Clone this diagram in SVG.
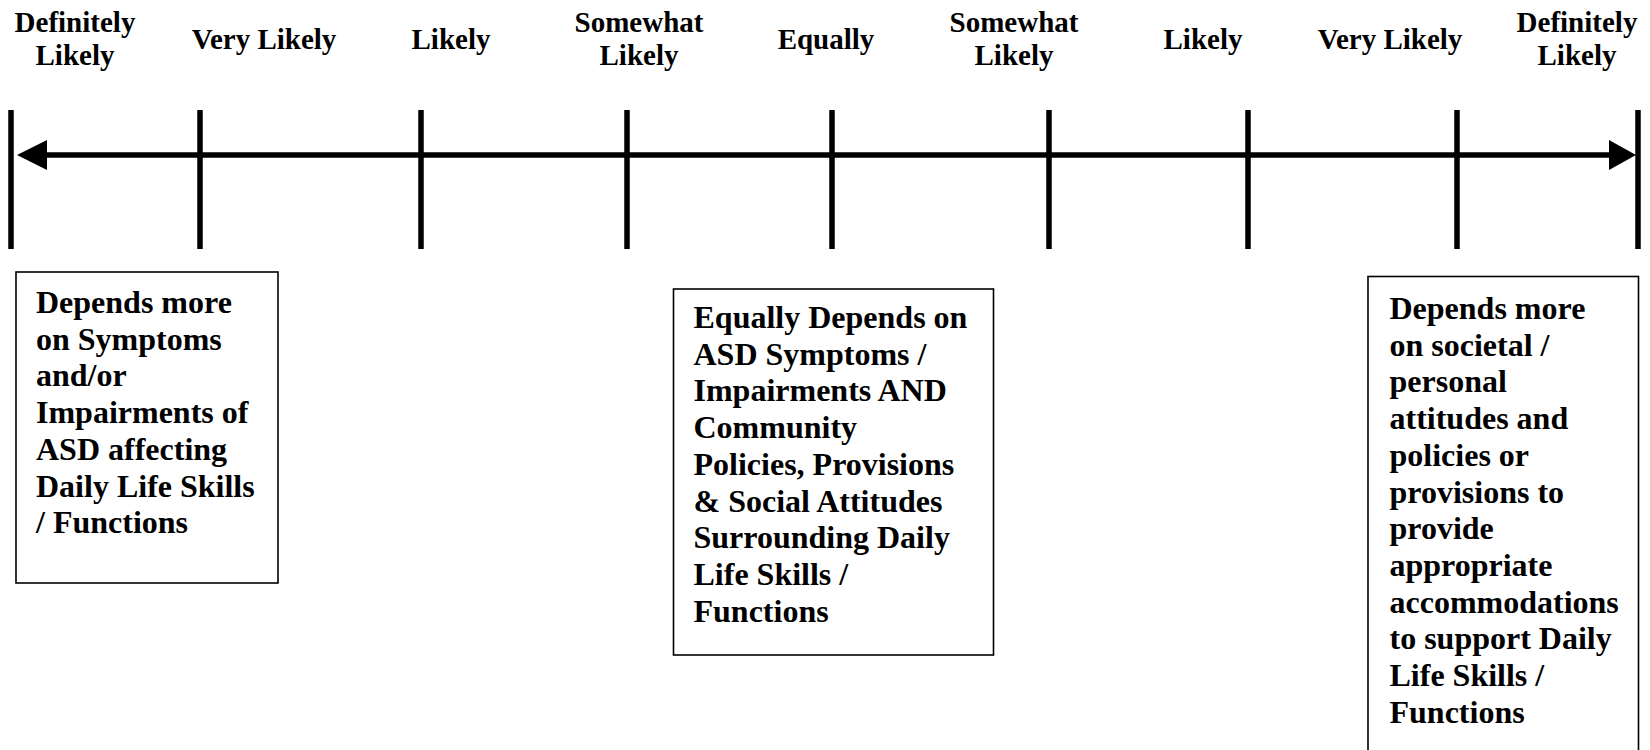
<svg xmlns="http://www.w3.org/2000/svg" width="1650" height="750" viewBox="0 0 1650 750">
  <style>
    .scale { font-family: "Liberation Serif", "Times New Roman", serif; font-weight: bold; font-size: 29px; fill: #000; text-anchor: middle; }
    .body { font-family: "Liberation Serif", "Times New Roman", serif; font-weight: bold; font-size: 32px; fill: #000; }
    .tick { stroke: #000; stroke-width: 5.5; }
    .axis { stroke: #000; stroke-width: 5.5; fill: none; }
    .head { fill: #000; }
    .box { fill: #fff; stroke: #000; stroke-width: 1.6; }
  </style>

  <rect width="1650" height="750" fill="#fff"/>

  <!-- scale labels -->
  <g id="labels">
    <text class="scale" x="75" y="32">Definitely</text>
    <text class="scale" x="75" y="65">Likely</text>
    <text class="scale" x="264" y="49">Very Likely</text>
    <text class="scale" x="451" y="49">Likely</text>
    <text class="scale" x="639" y="32">Somewhat</text>
    <text class="scale" x="639" y="65">Likely</text>
    <text class="scale" x="826" y="49">Equally</text>
    <text class="scale" x="1014" y="32">Somewhat</text>
    <text class="scale" x="1014" y="65">Likely</text>
    <text class="scale" x="1203" y="49">Likely</text>
    <text class="scale" x="1390" y="49">Very Likely</text>
    <text class="scale" x="1577" y="32">Definitely</text>
    <text class="scale" x="1577" y="65">Likely</text>
  </g>

  <!-- tick marks -->
  <g id="ticks">
    <line class="tick" x1="11" y1="110" x2="11" y2="249"/>
    <line class="tick" x1="200" y1="110" x2="200" y2="249"/>
    <line class="tick" x1="421" y1="110" x2="421" y2="249"/>
    <line class="tick" x1="627" y1="110" x2="627" y2="249"/>
    <line class="tick" x1="832" y1="110" x2="832" y2="249"/>
    <line class="tick" x1="1049" y1="110" x2="1049" y2="249"/>
    <line class="tick" x1="1248" y1="110" x2="1248" y2="249"/>
    <line class="tick" x1="1457" y1="110" x2="1457" y2="249"/>
    <line class="tick" x1="1638" y1="110" x2="1638" y2="249"/>
  </g>

  <!-- double-headed axis -->
  <g id="connectors">
    <line class="axis" x1="44" y1="155" x2="1612" y2="155"/>
    <polygon class="head" points="17,155 47,140 47,170"/>
    <polygon class="head" points="1636,155 1609,140 1609,170"/>
  </g>

  <g id="box-left">
    <rect class="box" x="16" y="272" width="262" height="311"/>
    <text class="body" x="36">
      <tspan x="36" y="313">Depends more</tspan>
      <tspan x="36" y="349.7">on Symptoms</tspan>
      <tspan x="36" y="386.4">and/or</tspan>
      <tspan x="36" y="423.1">Impairments of</tspan>
      <tspan x="36" y="459.8">ASD affecting</tspan>
      <tspan x="36" y="496.5">Daily Life Skills</tspan>
      <tspan x="36" y="533.2">/ Functions</tspan>
    </text>
  </g>

  <g id="box-middle">
    <rect class="box" x="673.5" y="289" width="320" height="366"/>
    <text class="body" x="693.5">
      <tspan x="693.5" y="328">Equally Depends on</tspan>
      <tspan x="693.5" y="364.7">ASD Symptoms /</tspan>
      <tspan x="693.5" y="401.4">Impairments AND</tspan>
      <tspan x="693.5" y="438.1">Community</tspan>
      <tspan x="693.5" y="474.8">Policies, Provisions</tspan>
      <tspan x="693.5" y="511.5">&amp; Social Attitudes</tspan>
      <tspan x="693.5" y="548.2">Surrounding Daily</tspan>
      <tspan x="693.5" y="584.9">Life Skills /</tspan>
      <tspan x="693.5" y="621.6">Functions</tspan>
    </text>
  </g>

  <g id="box-right">
    <rect class="box" x="1368" y="276.5" width="270.5" height="490"/>
    <text class="body" x="1389.5">
      <tspan x="1389.5" y="319">Depends more</tspan>
      <tspan x="1389.5" y="355.7">on societal /</tspan>
      <tspan x="1389.5" y="392.4">personal</tspan>
      <tspan x="1389.5" y="429.1">attitudes and</tspan>
      <tspan x="1389.5" y="465.8">policies or</tspan>
      <tspan x="1389.5" y="502.5">provisions to</tspan>
      <tspan x="1389.5" y="539.2">provide</tspan>
      <tspan x="1389.5" y="575.9">appropriate</tspan>
      <tspan x="1389.5" y="612.6">accommodations</tspan>
      <tspan x="1389.5" y="649.3">to support Daily</tspan>
      <tspan x="1389.5" y="686">Life Skills /</tspan>
      <tspan x="1389.5" y="722.7">Functions</tspan>
    </text>
  </g>
</svg>
